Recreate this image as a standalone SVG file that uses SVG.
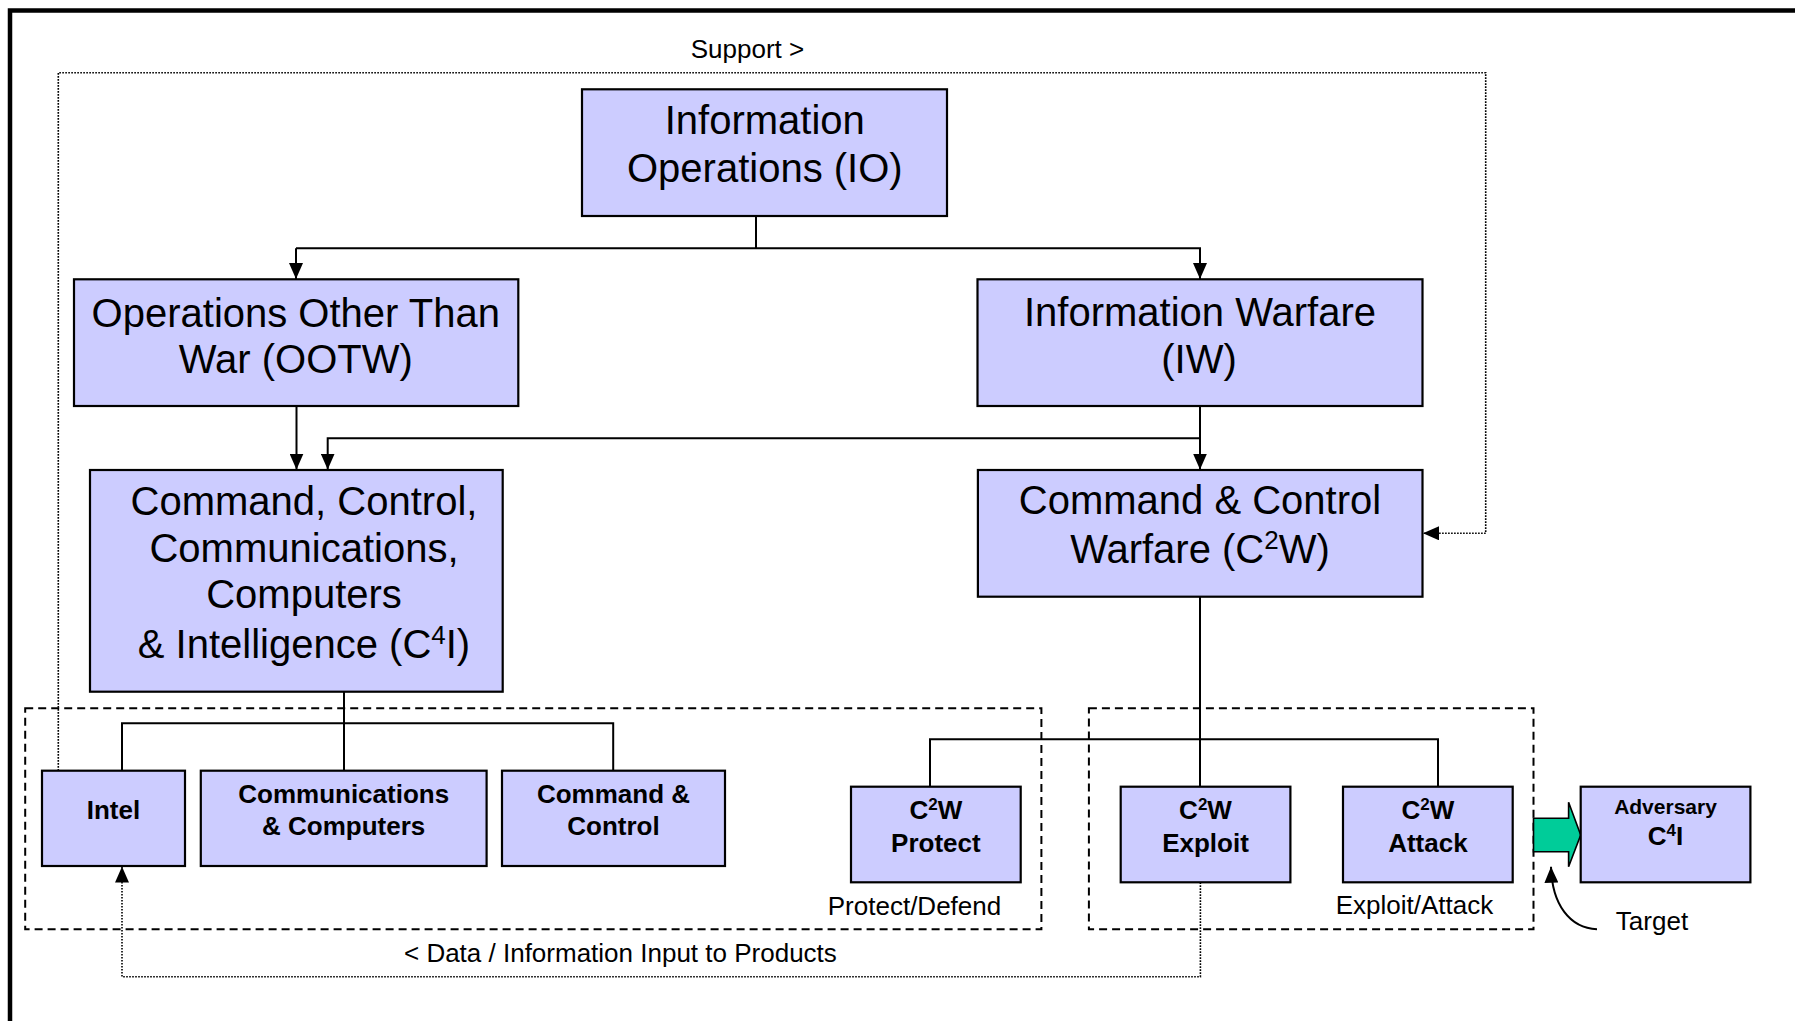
<svg xmlns="http://www.w3.org/2000/svg" width="1795" height="1021" viewBox="0 0 1795 1021">
  <style>
    .box { fill: #CCCCFF; stroke: #000; stroke-width: 2.2; }
    .wire { fill: none; stroke: #000; stroke-width: 2; }
    .dot { fill: none; stroke: #000; stroke-width: 1.6; stroke-dasharray: 1.6 1.4; }
    .dash { fill: none; stroke: #000; stroke-width: 2; stroke-dasharray: 8 5; }
    text { font-family: "Liberation Sans", Arial, sans-serif; fill: #000; text-anchor: middle; }
    .t40 { font-size: 40px; }
    .t26 { font-size: 26px; }
    .b26 { font-size: 26px; font-weight: bold; }
    .b21 { font-size: 21px; font-weight: bold; }
  </style>
  <defs>
    <marker id="ah" viewBox="0 0 16 14" refX="16" refY="7" markerWidth="16" markerHeight="14" markerUnits="userSpaceOnUse" orient="auto">
      <path d="M0,0 L16,7 L0,14 z" fill="#000"/>
    </marker>
  </defs>

  <rect width="1795" height="1021" fill="#fff"/>
  <!-- page frame (top and left edges) -->
  <path d="M10,1021 V10.5 H1795" fill="none" stroke="#000" stroke-width="4.5"/>

  <!-- grouping frames -->
  <g id="groups">
    <rect class="dash" x="25.2" y="708.3" width="1016.2" height="221"/>
    <rect class="dash" x="1088.9" y="708.3" width="444.6" height="221"/>
    <text class="t26" x="914.5" y="915">Protect/Defend</text>
    <text class="t26" x="1414.5" y="914">Exploit/Attack</text>
  </g>

  <g id="connectors">
    <path class="wire" d="M756,216 V248.3"/>
    <path class="wire" d="M296,248.3 V279" marker-end="url(#ah)"/>
    <path class="wire" d="M296,248.3 H1200 V279" marker-end="url(#ah)"/>
    <path class="wire" d="M296.5,406 V469.5" marker-end="url(#ah)"/>
    <path class="wire" d="M1200,406 V469.5" marker-end="url(#ah)"/>
    <path class="wire" d="M1200,438.3 H327.7 V469.5" marker-end="url(#ah)"/>
    <path class="wire" d="M344,691.7 V770.7"/>
    <path class="wire" d="M122,770.7 V723.3 H613.2 V770.7"/>
    <path class="wire" d="M1200,596.7 V786.7"/>
    <path class="wire" d="M930,786.7 V739.3 H1438 V786.7"/>
    <!-- Support feedback loop -->
    <path class="dot" d="M58.3,770.7 V72.7 H1485.7 V533.3 H1423" marker-end="url(#ah)"/>
    <text class="t26" x="747.5" y="58.3">Support &gt;</text>
    <!-- data / information return loop -->
    <path class="dot" d="M1200.4,882.3 V976.7 H122 V866.5" marker-end="url(#ah)"/>
    <text class="t26" x="620.4" y="961.7">&lt; Data / Information Input to Products</text>
    <!-- target pointer -->
    <path class="wire" d="M1597,929.3 C1570,928 1552,905 1551,866.7" marker-end="url(#ah)"/>
    <text class="t26" x="1652" y="930">Target</text>
    <!-- attack block arrow -->
    <polygon points="1533.5,818.3 1568.6,818.3 1568.6,802.3 1580.7,835 1568.6,866.7 1568.6,851.7 1533.5,851.7" fill="#00CC99" stroke="#000" stroke-width="1.6"/>
  </g>

  <g id="io">
    <rect class="box" x="582" y="89.3" width="365" height="126.7"/>
    <text class="t40" x="764.8" y="134">Information</text>
    <text class="t40" x="764.8" y="181.7">Operations (IO)</text>
  </g>

  <g id="ootw">
    <rect class="box" x="74" y="279.3" width="444.3" height="126.7"/>
    <text class="t40" x="295.8" y="326.7">Operations Other Than</text>
    <text class="t40" x="295.8" y="373.3">War (OOTW)</text>
  </g>

  <g id="iw">
    <rect class="box" x="977.5" y="279.3" width="445" height="126.7"/>
    <text class="t40" x="1200" y="326">Information Warfare</text>
    <text class="t40" x="1199" y="373.3">(IW)</text>
  </g>

  <g id="c4i">
    <rect class="box" x="90" y="470" width="412.7" height="221.7"/>
    <text class="t40" x="304" y="515">Command, Control,</text>
    <text class="t40" x="304" y="561.7">Communications,</text>
    <text class="t40" x="304" y="608.3">Computers</text>
    <text class="t40" x="304" y="658.3">&amp; Intelligence (C<tspan font-size="26" dy="-14">4</tspan><tspan dy="14">I)</tspan></text>
  </g>

  <g id="c2w">
    <rect class="box" x="977.9" y="470" width="444.6" height="126.7"/>
    <text class="t40" x="1200" y="514.3">Command &amp; Control</text>
    <text class="t40" x="1200" y="563.3">Warfare (C<tspan font-size="26" dy="-14">2</tspan><tspan dy="14">W)</tspan></text>
  </g>

  <g id="intel">
    <rect class="box" x="42" y="770.7" width="143" height="95.3"/>
    <text class="b26" x="113.5" y="819.3">Intel</text>
  </g>

  <g id="comms-computers">
    <rect class="box" x="200.8" y="770.7" width="285.8" height="95.3"/>
    <text class="b26" x="343.7" y="803.3">Communications</text>
    <text class="b26" x="343.7" y="835.3">&amp; Computers</text>
  </g>

  <g id="command-control">
    <rect class="box" x="502" y="770.7" width="223" height="95.3"/>
    <text class="b26" x="613.5" y="803.3">Command &amp;</text>
    <text class="b26" x="613.5" y="835.3">Control</text>
  </g>

  <g id="c2w-protect">
    <rect class="box" x="851" y="786.7" width="169.7" height="95.6"/>
    <text class="b26" x="935.9" y="819.3">C<tspan font-size="17" dy="-9">2</tspan><tspan dy="9">W</tspan></text>
    <text class="b26" x="935.9" y="852">Protect</text>
  </g>

  <g id="c2w-exploit">
    <rect class="box" x="1120.7" y="786.7" width="169.7" height="95.6"/>
    <text class="b26" x="1205.5" y="819.3">C<tspan font-size="17" dy="-9">2</tspan><tspan dy="9">W</tspan></text>
    <text class="b26" x="1205.5" y="852">Exploit</text>
  </g>

  <g id="c2w-attack">
    <rect class="box" x="1343" y="786.7" width="169.7" height="95.6"/>
    <text class="b26" x="1427.9" y="819.3">C<tspan font-size="17" dy="-9">2</tspan><tspan dy="9">W</tspan></text>
    <text class="b26" x="1427.9" y="852">Attack</text>
  </g>

  <g id="adversary-c4i">
    <rect class="box" x="1580.7" y="786.7" width="169.7" height="95.6"/>
    <text class="b21" x="1665.5" y="814">Adversary</text>
    <text class="b26" x="1665.5" y="845">C<tspan font-size="17" dy="-9">4</tspan><tspan dy="9">I</tspan></text>
  </g>
</svg>
